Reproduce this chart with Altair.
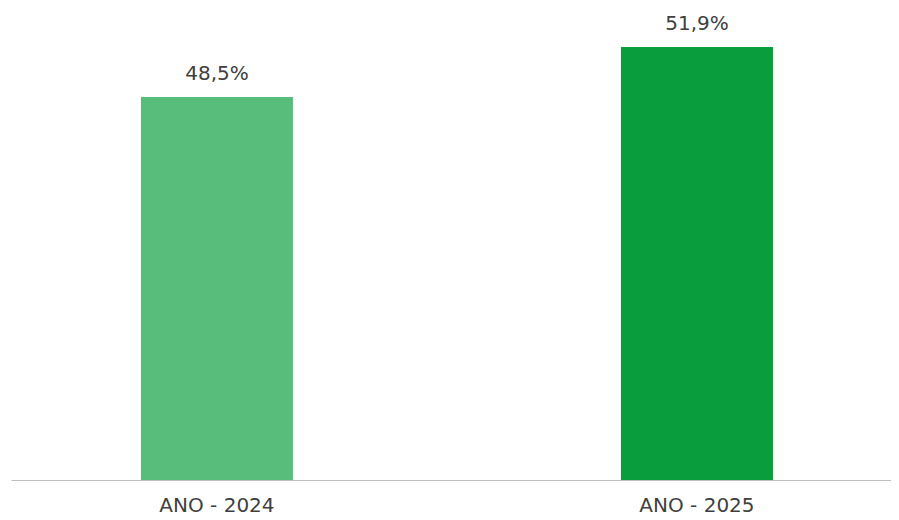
import altair as alt
import pandas as pd

categories = ["ANO - 2024", "ANO - 2025"]
values = [48.5, 51.9]
labels = ["48,5%", "51,9%"]
colors = ["#58BD7B", "#0A9D3E"]

df = pd.DataFrame({"cat": categories, "val": values, "lab": labels, "col": colors})

x = alt.X("cat:N", sort=categories, title=None,
          scale=alt.Scale(paddingInner=0.6833, paddingOuter=0.2583, align=0.524),
          axis=alt.Axis(labelAngle=0, ticks=False, grid=False, domainColor="#BFBFBF",
                        domainWidth=1, labelFont="DejaVu Sans", labelFontSize=20,
                        labelColor="#404040", labelPadding=15))
y = alt.Y("val:Q", title=None,
          scale=alt.Scale(domain=[22.456, 54.552], zero=False, nice=False),
          axis=None)

bars = alt.Chart(df).mark_bar(clip=True).encode(
    x=x, y=y,
    color=alt.Color("col:N", scale=None, legend=None),
)
text = alt.Chart(df).mark_text(baseline="alphabetic", dy=-17, font="DejaVu Sans",
                               fontSize=20, color="#404040").encode(
    x=alt.X("cat:N", sort=categories), y="val:Q", text="lab:N")

chart = alt.layer(bars, text).properties(
    width=880, height=472,
    padding={"left": 3, "top": 0, "right": 0, "bottom": 36},
    autosize=alt.AutoSizeParams(type="none"),
).configure_view(stroke=None)

chart.save("out.html", embed_options={"renderer": "svg", "actions": False})
